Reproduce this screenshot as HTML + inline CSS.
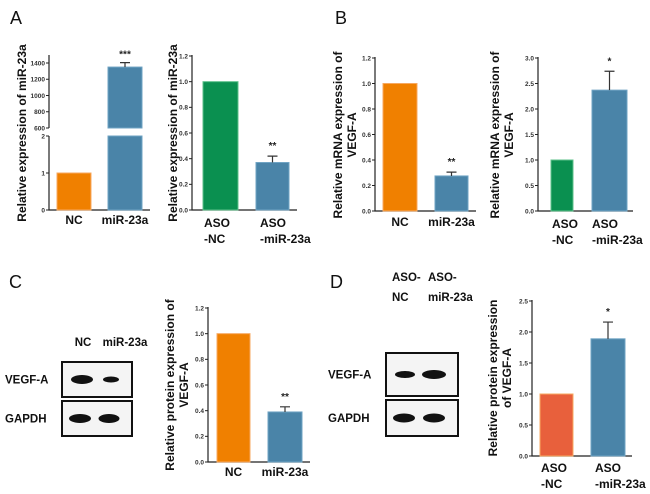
<!DOCTYPE html>
<html><head><meta charset="utf-8">
<style>
html,body{margin:0;padding:0;background:#fff;}
svg{display:block;font-family:"Liberation Sans",Arial,sans-serif;}
.tick{font-size:6.5px;font-weight:bold;fill:#333;}
.cat{font-size:12px;font-weight:bold;fill:#111;}
.ytitle{font-size:12px;font-weight:bold;fill:#111;}
.letter{font-size:18px;fill:#111;}
.blot{font-size:11.5px;font-weight:bold;fill:#111;}
</style></head>
<body>
<svg id="fig" width="650" height="494" viewBox="0 0 650 494" xmlns="http://www.w3.org/2000/svg">
<text class="letter" x="10" y="24">A</text>
<text class="letter" x="335" y="24">B</text>
<text class="letter" x="9" y="288">C</text>
<text class="letter" x="330" y="288">D</text>
</svg>
<script>
// ---- data ----
const a1Categories = ["NC", "miR-23a"];
const a1Values = [1, 1350];
const a1Errors = [0, 1405];
const a1LowerTicks = [0, 1, 2];
const a1UpperTicks = [600, 800, 1000, 1200, 1400];

const a2Categories = ["ASO|-NC", "ASO|-miR-23a"];
const a2Values = [1.0, 0.37];
const a2Errors = [0, 0.42];
const a2Ticks = ["0.0","0.2","0.4","0.6","0.8","1.0","1.2"];

const b1Categories = ["NC", "miR-23a"];
const b1Values = [1.0, 0.275];
const b1Errors = [0, 0.305];
const b1Ticks = ["0.0","0.2","0.4","0.6","0.8","1.0","1.2"];

const b2Categories = ["ASO|-NC", "ASO|-miR-23a"];
const b2Values = [1.0, 2.37];
const b2Errors = [0, 2.74];
const b2Ticks = ["0.0","0.5","1.0","1.5","2.0","2.5","3.0"];

const cCategories = ["NC", "miR-23a"];
const cValues = [1.0, 0.39];
const cErrors = [0, 0.43];
const cTicks = ["0.0","0.2","0.4","0.6","0.8","1.0","1.2"];

const dCategories = ["ASO|-NC", "ASO|-miR-23a"];
const dValues = [1.0, 1.89];
const dErrors = [0, 2.16];
const dTicks = ["0.0","0.5","1.0","1.5","2.0","2.5"];

const ORANGE="#f08000", BLUE="#4a84a8", GREEN="#0a9050", RED="#e8603c";
const NS="http://www.w3.org/2000/svg";
const svg=document.getElementById('fig');
function mk(tag,attrs,parent){const e=document.createElementNS(NS,tag);for(const k in attrs)e.setAttribute(k,attrs[k]);(parent||svg).appendChild(e);return e;}
function txt(str,attrs,parent){const e=mk('text',attrs,parent);e.textContent=str;return e;}

function catLabel(g,label,cx,y,leftX){
  const parts=label.split('|');
  if(parts.length===1){
    const t=txt(parts[0],{class:'cat',x:cx,y:y,'text-anchor':'middle'},g);
    
    
  } else {
    parts.forEach((p,i)=>{
      const t=txt(p,{class:'cat',x:leftX,y:y+i*16},g);
      
      
    });
  }
}

function bar(g,x0,x1,yTop,yBot,color,name){
  const r=mk('rect',{x:x0,y:yTop,width:x1-x0,height:Math.max(0,yBot-yTop),fill:color,stroke:color==BLUE?'#6fa3c3':(color==GREEN?'#5cc08a':'#f7a860'),'stroke-width':1},g);
  
  
}
function errBar(g,cx,yv,ye,half){
  const p=mk('path',{d:`M${cx},${yv}V${ye}M${cx-half},${ye}H${cx+half}`,stroke:'#333','stroke-width':1.2,fill:'none'},g);
  
  
}

function chart(o){
  const g=mk('g',{});
  
  
  const tmax=parseFloat(o.ticks[o.ticks.length-1]);
  const y=v=>o.y0-(v/tmax)*(o.y0-o.yTop);
  mk('path',{d:`M${o.ax},${o.yTop-1}V${o.y0}H${o.axEnd}`,stroke:'#222','stroke-width':1.2,fill:'none'},g);
  o.ticks.forEach(t=>{
    const yy=y(parseFloat(t));
    mk('line',{x1:o.ax-3,x2:o.ax,y1:yy,y2:yy,stroke:'#222','stroke-width':1},g);
    const tl=txt(t,{class:'tick',x:o.ax-4,y:yy+2.3,'text-anchor':'end'},g);
    
    
  });
  o.values.forEach((v,i)=>{
    const [x0,x1]=o.bars[i];
    bar(g,x0,x1,y(v),o.y0,o.colors[i],'bar-'+o.categories[i].replace('|','').toLowerCase());
    if(o.errors[i]>0){errBar(g,(x0+x1)/2,y(v),y(o.errors[i]),5);}
    catLabel(g,o.categories[i],(x0+x1)/2,o.labY,o.labX[i]);
  });
  const st=txt(o.stars,{x:(o.bars[1][0]+o.bars[1][1])/2,y:y(o.errors[1])-7,'text-anchor':'middle','font-size':'10px','font-weight':'bold',fill:'#222'},g);
  
  
  const tg=mk('g',{transform:`translate(${o.titleX},${o.titleY}) rotate(-90)`},g);
  o.title.forEach((line,i)=>{
    const t=txt(line,{class:'ytitle',x:0,y:i*14,'text-anchor':'middle'},tg);
    
    
  });
}

// ---- Panel A1: broken axis ----
(function(){
  const g=mk('g',{});
  
  
  const ax=49, y0=210, y2=136, yU0=128, yU1=63;
  const yl=v=>y0-(v/2)*(y0-y2);
  const yu=v=>yU0-((v-600)/800)*(yU0-yU1);
  mk('path',{d:`M${ax},55V${yU0}M${ax},${y2}V${y0}H150`,stroke:'#222','stroke-width':1.2,fill:'none'},g);
  a1LowerTicks.forEach(t=>{const yy=yl(t);mk('line',{x1:ax-3,x2:ax,y1:yy,y2:yy,stroke:'#222'},g);
    const tl=txt(String(t),{class:'tick',x:ax-4,y:yy+2.3,'text-anchor':'end'},g);
    
    });
  a1UpperTicks.forEach(t=>{const yy=yu(t);mk('line',{x1:ax-3,x2:ax,y1:yy,y2:yy,stroke:'#222'},g);
    const tl=txt(String(t),{class:'tick',x:ax-4,y:yy+2.3,'text-anchor':'end'},g);
    
    });
  const bars=[[57,91],[108,142]], colors=[ORANGE,BLUE];
  a1Values.forEach((v,i)=>{
    const [x0,x1]=bars[i];
    if(v<=2){bar(g,x0,x1,yl(v),y0,colors[i],'bar-'+a1Categories[i].toLowerCase());}
    else{
      bar(g,x0,x1,y2,y0,colors[i],'bar-'+a1Categories[i].toLowerCase()+'-lower');
      bar(g,x0,x1,yu(v),yU0,colors[i],'bar-'+a1Categories[i].toLowerCase()+'-upper');
      if(a1Errors[i]>0)errBar(g,(x0+x1)/2,yu(v),yu(a1Errors[i]),5);
    }
    catLabel(g,a1Categories[i],(x0+x1)/2,224,0);
  });
  const st=txt('***',{x:125,y:yu(a1Errors[1])-5,'text-anchor':'middle','font-size':'10px','font-weight':'bold',fill:'#222'},g);
  
  
  const tg=mk('g',{transform:'translate(26,133) rotate(-90)'},g);
  const t=txt('Relative expression of miR-23a',{class:'ytitle',x:0,y:0,'text-anchor':'middle'},tg);
  
  
})();

chart({name:'chart-a2',ax:192,axEnd:297,y0:210,yTop:56,ticks:a2Ticks,values:a2Values,errors:a2Errors,categories:a2Categories,
  bars:[[203,238],[256,289]],colors:[GREEN,BLUE],labY:227,labX:[204,260],stars:'**',
  title:['Relative expression of miR-23a'],titleX:177,titleY:133});
chart({name:'chart-b1',ax:375,axEnd:476,y0:211,yTop:58,ticks:b1Ticks,values:b1Values,errors:b1Errors,categories:b1Categories,
  bars:[[383,417],[435,468]],colors:[ORANGE,BLUE],labY:226,labX:[0,0],stars:'**',
  title:['Relative  mRNA expression of','VEGF-A'],titleX:342,titleY:135});
chart({name:'chart-b2',ax:538,axEnd:633,y0:211,yTop:58,ticks:b2Ticks,values:b2Values,errors:b2Errors,categories:b2Categories,
  bars:[[551,573],[592,627]],colors:[GREEN,BLUE],labY:228,labX:[552,592],stars:'*',
  title:['Relative mRNA expression of','VEGF-A'],titleX:499,titleY:135});
chart({name:'chart-c',ax:208,axEnd:310,y0:462,yTop:308,ticks:cTicks,values:cValues,errors:cErrors,categories:cCategories,
  bars:[[217,250],[268,302]],colors:[ORANGE,BLUE],labY:476,labX:[0,0],stars:'**',
  title:['Relative  protein expression of','VEGF-A'],titleX:174,titleY:385});
chart({name:'chart-d',ax:532,axEnd:632,y0:456,yTop:301,ticks:dTicks,values:dValues,errors:dErrors,categories:dCategories,
  bars:[[540,573],[591,625]],colors:[RED,BLUE],labY:472,labX:[541,595],stars:'*',
  title:['Relative protein expression','of VEGF-A'],titleX:497,titleY:378});

// ---- Western blots ----
function blot(name,x0,x1,boxes,bands,rowLabels,labelX){
  const g=mk('g',{});
  
  
  boxes.forEach((b,bi)=>{
    const r=mk('rect',{x:x0,y:b[0],width:x1-x0,height:b[1]-b[0],fill:'#f4f4f4',stroke:'#111','stroke-width':2},g);
    
    
    bands[bi].forEach(bd=>{
      const e=mk('ellipse',{cx:bd[0],cy:(b[0]+b[1])/2,rx:bd[1],ry:bd[2],fill:'#111'},g);
      
      
    });
    const t=txt(rowLabels[bi],{class:'blot',x:labelX,y:(b[0]+b[1])/2+4},g);
    
    
  });
}
blot('western-blot-c',62,132,[[362,397],[401,436]],[[[82,11,4.5],[111,8,3]],[[80,11,4.5],[109,10.5,4.5]]],['VEGF-A','GAPDH'],5);
blot('western-blot-d',386,458,[[353,396],[400,436]],[[[405,10,3.5],[434,12,4.5]],[[404,11,4.5],[434,11,4.5]]],['VEGF-A','GAPDH'],328);
[['NC',83,346,'middle'],['miR-23a',125,346,'middle'],['ASO-',392,281,'start'],['ASO-',428,281,'start'],['NC',392,301,'start'],['miR-23a',428,301,'start']].forEach(l=>{
  const t=txt(l[0],{class:'blot',x:l[1],y:l[2],'text-anchor':l[3]});
  
  
});
</script>
</body></html>
